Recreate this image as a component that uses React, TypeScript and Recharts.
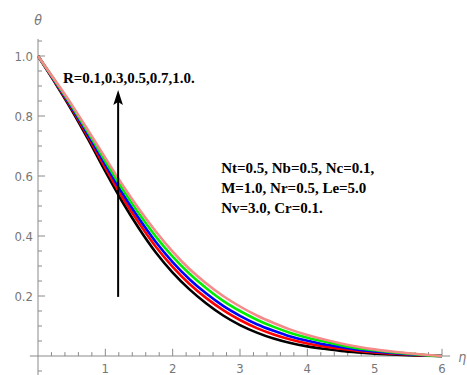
import React from "react";
import { LineChart, Line, XAxis, YAxis, ReferenceLine, ReferenceDot } from "recharts";

const etaValues = [0, 0.25, 0.5, 0.75, 1.0, 1.25, 1.5, 1.75, 2.0, 2.25, 2.5, 2.75, 3.0, 3.25, 3.5, 3.75, 4.0, 4.25, 4.5, 4.75, 5.0, 5.25, 5.5, 5.75, 6.0];
const thetaR01 = [1, 0.912, 0.82, 0.72, 0.615, 0.515, 0.425, 0.345, 0.278, 0.222, 0.175, 0.135, 0.103, 0.078, 0.058, 0.043, 0.032, 0.024, 0.017, 0.012, 0.008, 0.005, 0.003, 0.001, 0];
const thetaR03 = [1, 0.914, 0.825, 0.728, 0.627, 0.53, 0.443, 0.364, 0.297, 0.24, 0.193, 0.153, 0.12, 0.093, 0.072, 0.055, 0.042, 0.032, 0.024, 0.017, 0.012, 0.008, 0.005, 0.002, 0];
const thetaR05 = [1, 0.916, 0.829, 0.735, 0.638, 0.544, 0.458, 0.38, 0.313, 0.256, 0.208, 0.167, 0.134, 0.106, 0.084, 0.065, 0.051, 0.039, 0.03, 0.021, 0.015, 0.01, 0.006, 0.0025, 0];
const thetaR07 = [1, 0.918, 0.834, 0.743, 0.649, 0.558, 0.474, 0.398, 0.331, 0.274, 0.226, 0.184, 0.15, 0.121, 0.097, 0.077, 0.061, 0.048, 0.036, 0.026, 0.019, 0.013, 0.008, 0.003, 0];
const thetaR10 = [1, 0.92, 0.838, 0.75, 0.66, 0.572, 0.49, 0.415, 0.348, 0.29, 0.242, 0.2, 0.165, 0.135, 0.11, 0.088, 0.07, 0.055, 0.042, 0.031, 0.022, 0.015, 0.009, 0.004, 0];

const xTickLabels = [1, 2, 3, 4, 5, 6];
const yTickLabels = [0.2, 0.4, 0.6, 0.8, 1.0];
const xMinorTicks = [0.2, 0.4, 0.6, 0.8, 1.2, 1.4, 1.6, 1.8, 2.2, 2.4, 2.6, 2.8, 3.2, 3.4, 3.6, 3.8, 4.2, 4.4, 4.6, 4.8, 5.2, 5.4, 5.6, 5.8];
const yMinorTicks = [-0.05, 0.05, 0.1, 0.15, 0.25, 0.3, 0.35, 0.45, 0.5, 0.55, 0.65, 0.7, 0.75, 0.85, 0.9, 0.95, 1.05];

const paramLines = ["Nt=0.5, Nb=0.5, Nc=0.1,", "M=1.0, Nr=0.5, Le=5.0", "Nv=3.0, Cr=0.1."];
const paramLineY = [0.61, 0.543, 0.477];
const rLabel = "R=0.1,0.3,0.5,0.7,1.0.";

const data = etaValues.map((eta, i) => ({
  eta,
  r01: thetaR01[i],
  r03: thetaR03[i],
  r05: thetaR05[i],
  r07: thetaR07[i],
  r10: thetaR10[i],
}));

const AXIS = "#8a8a8a";
const TICKFONT = "'Liberation Sans Narrow', 'DejaVu Sans Condensed', 'Roboto', sans-serif";
const SERIF = "'Liberation Serif', 'DejaVu Serif', serif";

const textShape = (txt: string, opts: any) => (props: any) => (
  <text
    x={props.cx}
    y={props.cy}
    fontFamily={opts.family}
    fontSize={opts.size}
    fontWeight={opts.weight || "normal"}
    fontStyle={opts.style || "normal"}
    fill={opts.fill}
    textAnchor={opts.anchor || "start"}
  >
    {txt}
  </text>
);

const arrowHead = (props: any) => {
  const { cx, cy } = props;
  return (
    <polygon
      points={`${cx},${cy} ${cx - 4.8},${cy + 15} ${cx},${cy + 12} ${cx + 4.8},${cy + 15}`}
      fill="#000"
    />
  );
};

export default function App() {
  const series = [
    { key: "r01", color: "#000000" },
    { key: "r03", color: "#ff0000" },
    { key: "r05", color: "#0000ff" },
    { key: "r07", color: "#00ee00" },
    { key: "r10", color: "#f58a8a" },
  ];
  return (
    <div style={{ position: "absolute", left: 0, top: 0, width: 467, height: 375, background: "#fff" }}>
      <LineChart width={467} height={375} data={data} margin={{ top: 41, right: 25, bottom: 0, left: 0 }}>
        <XAxis
          dataKey="eta"
          type="number"
          domain={[0, 6]}
          ticks={xTickLabels}
          axisLine={false}
          tickLine={false}
          height={19}
          tickSize={6}
          tickMargin={2}
          tick={{ fill: "#777", fontSize: 13, fontFamily: TICKFONT }}
        />
        <YAxis
          type="number"
          domain={[0, 1.05]}
          ticks={yTickLabels}
          axisLine={false}
          tickLine={false}
          width={38}
          tickSize={0}
          tickMargin={5}
          tickFormatter={(v: number) => v.toFixed(1)}
          tick={{ fill: "#777", fontSize: 13, fontFamily: TICKFONT }}
        />
        <ReferenceLine segment={[{ x: -0.12, y: 0 }, { x: 6.12, y: 0 }]} stroke={AXIS} strokeWidth={1} ifOverflow="visible" />
        <ReferenceLine segment={[{ x: 0, y: -0.064 }, { x: 0, y: 1.057 }]} stroke={AXIS} strokeWidth={1} ifOverflow="visible" />
        {xTickLabels.map((t) => (
          <ReferenceLine key={"xM" + t} segment={[{ x: t, y: 0 }, { x: t, y: 0.024 }]} stroke={AXIS} strokeWidth={1} ifOverflow="visible" />
        ))}
        {xMinorTicks.map((t) => (
          <ReferenceLine key={"xm" + t} segment={[{ x: t, y: 0 }, { x: t, y: 0.013 }]} stroke={AXIS} strokeWidth={1} ifOverflow="visible" />
        ))}
        {yTickLabels.map((t) => (
          <ReferenceLine key={"yM" + t} segment={[{ x: 0, y: t }, { x: 0.105, y: t }]} stroke={AXIS} strokeWidth={1} ifOverflow="visible" />
        ))}
        {yMinorTicks.map((t) => (
          <ReferenceLine key={"ym" + t} segment={[{ x: 0, y: t }, { x: 0.06, y: t }]} stroke={AXIS} strokeWidth={1} ifOverflow="visible" />
        ))}
        {series.map((s) => (
          <Line
            key={s.key}
            dataKey={s.key}
            type="monotone"
            stroke={s.color}
            strokeWidth={2.6}
            dot={false}
            activeDot={false}
            isAnimationActive={false}
          />
        ))}
        <ReferenceLine segment={[{ x: 1.19, y: 0.197 }, { x: 1.19, y: 0.86 }]} stroke="#000" strokeWidth={2} ifOverflow="visible" />
        <ReferenceDot x={1.19} y={0.887} r={1} ifOverflow="visible" shape={arrowHead} />
        <ReferenceDot
          x={0.37}
          y={0.91}
          r={1}
          ifOverflow="visible"
          shape={textShape(rLabel, { family: SERIF, size: 15, weight: "bold", fill: "#000" })}
        />
        {paramLines.map((line, i) => (
          <ReferenceDot
            key={"p" + i}
            x={2.72}
            y={paramLineY[i]}
            r={1}
            ifOverflow="visible"
            shape={textShape(line, { family: SERIF, size: 15, weight: "bold", fill: "#000" })}
          />
        ))}
        <ReferenceDot
          x={0}
          y={1.103}
          r={1}
          ifOverflow="visible"
          shape={textShape("θ", { family: TICKFONT, size: 14, style: "italic", fill: "#777", anchor: "middle" })}
        />
        <ReferenceDot
          x={6.24}
          y={-0.02}
          r={1}
          ifOverflow="visible"
          shape={textShape("η", { family: TICKFONT, size: 14, style: "italic", fill: "#777" })}
        />
      </LineChart>
    </div>
  );
}
